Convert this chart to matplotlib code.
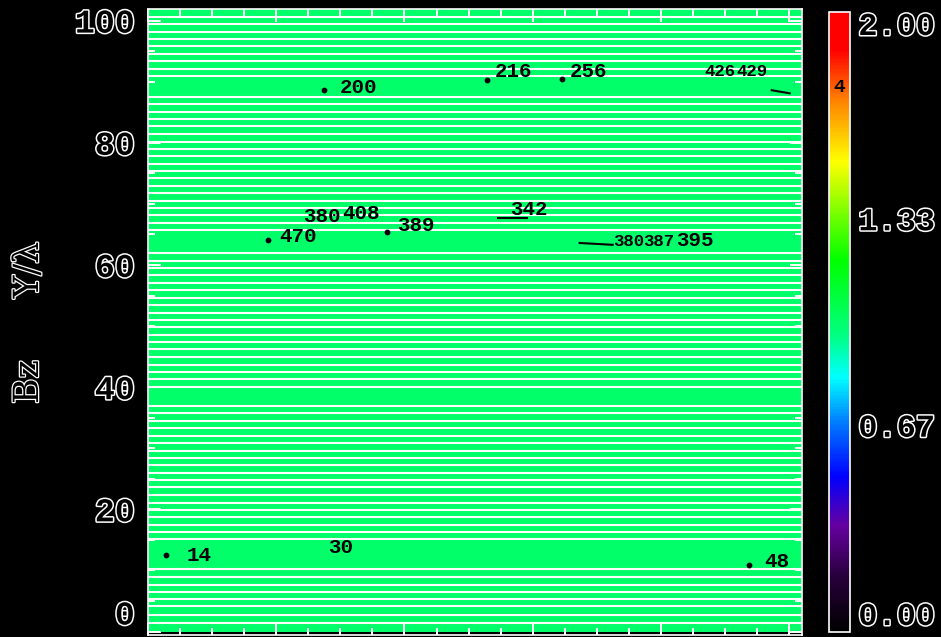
"""
Bz map in the (X, Y/lambda) plane, IDL-style: constant field fill,
white contour lines and black numeric labels, rainbow colour bar.
"""

import matplotlib
matplotlib.use("Agg")
import numpy as np
import matplotlib.pyplot as plt
from matplotlib import patheffects
from matplotlib.colors import LinearSegmentedColormap
from matplotlib.ticker import MultipleLocator

OUTPUT_FIGURE = "out.png"

# field level filling the panel and colour-bar range
BZ_LEVEL = 1.0
BZ_MIN, BZ_MAX = 0.0, 2.0
X_MAX = 255.0
Y_MIN, Y_MAX = -0.57, 101.9

# white contour lines (Y/lambda)
contour_y = [
    100.6, 99.4, 98.2, 97.0, 95.8, 94.6, 93.4, 92.1, 90.9,
    87.5, 86.3, 85.1, 83.9, 82.7, 81.4, 80.2, 79.0, 77.8, 76.6,
    75.4, 74.2, 73.0, 71.8, 70.5, 69.3, 68.1, 66.9, 65.7,
    61.9, 60.7, 59.5, 58.3, 57.1, 55.9, 54.6, 53.4, 52.2, 51.0,
    49.8, 48.6, 47.4, 46.2, 45.0, 43.7, 42.5, 41.3, 40.1,
    36.9, 35.7, 34.5, 33.3, 32.0, 30.8, 29.6, 28.4, 27.2, 26.0,
    24.8, 23.6, 22.4, 21.1, 19.9, 18.7, 17.5, 16.3, 15.1,
    10.3, 8.9, 7.6, 6.5, 5.3, 4.1, 2.7, 1.4,
]

# black contour labels
label_text = ["200", "216", "256", "470", "380", "408", "389",
              "342", "395", "14", "30", "48"]
label_x = [74.7, 135.1, 164.4, 51.3, 60.3, 75.8, 97.3,
           141.0, 206.1, 15.0, 70.4, 240.1]
label_y = [89.1, 91.7, 91.7, 64.7, 68.0, 68.5, 66.4,
           69.0, 64.0, 12.4, 13.7, 11.4]

# crowded labels that sit on top of each other in the original
crowded_text = ["426", "429", "380", "387"]
crowded_x = [217.1, 229.5, 181.2, 192.9]
crowded_y = [91.7, 91.7, 63.9, 63.9]

# small black contour fragments
dot_x = [132.0, 46.6, 93.0, 234.2, 68.8, 161.3, 7.2]
dot_y = [90.3, 64.1, 65.4, 10.9, 88.6, 90.4, 12.5]
stroke_x0 = [136.3, 168.3, 243.2]
stroke_x1 = [147.6, 181.2, 250.2]
stroke_y0 = [67.7, 63.6, 88.6]
stroke_y1 = [67.7, 63.3, 88.1]

y_ticks = [0, 20, 40, 60, 80, 100]
y_ticklabels = ["0", "20", "40", "60", "80", "100"]
cbar_ticks = [0.0, 0.667, 1.333, 2.0]
cbar_ticklabels = ["0.00", "0.67", "1.33", "2.00"]
cbar_mark_value = 1.758
cbar_mark_text = "4"

rainbow_stops = [
    (0.00, (0.00, 0.00, 0.00)),
    (0.09, (0.16, 0.00, 0.24)),
    (0.17, (0.40, 0.00, 0.63)),
    (0.25, (0.00, 0.00, 1.00)),
    (0.34, (0.00, 0.50, 1.00)),
    (0.41, (0.00, 1.00, 1.00)),
    (0.48, (0.00, 1.00, 0.50)),
    (0.60, (0.00, 1.00, 0.00)),
    (0.76, (1.00, 1.00, 0.00)),
    (0.86, (1.00, 0.50, 0.00)),
    (0.94, (1.00, 0.00, 0.00)),
    (1.00, (1.00, 0.00, 0.00)),
]


def hollow(width=2.2):
    return [patheffects.withStroke(linewidth=width, foreground="white")]


def main():
    cmap = LinearSegmentedColormap.from_list("idl_rainbow", rainbow_stops)

    fig = plt.figure(figsize=(9.41, 6.37), dpi=100, facecolor="black")
    ax = fig.add_axes([148 / 941, 2 / 637, 654 / 941, 626 / 637])
    ax.set_facecolor("black")

    field = np.full((1, 1), BZ_LEVEL)
    mesh = ax.pcolormesh([0, X_MAX], [0, Y_MAX], field, cmap=cmap,
                         vmin=BZ_MIN, vmax=BZ_MAX, shading="flat")

    ax.hlines(contour_y, 0, X_MAX, colors="white", linewidth=1.5, zorder=2)

    for txt, x, y in zip(label_text, label_x, label_y):
        ax.text(x, y, txt, color="black", fontsize=15, fontweight="bold",
                family="Liberation Mono", ha="left", va="center", zorder=4)
    for txt, x, y in zip(crowded_text, crowded_x, crowded_y):
        ax.text(x, y, txt, color="black", fontsize=12.5, fontweight="bold",
                family="Liberation Mono", ha="left", va="center", zorder=4)
    ax.scatter(dot_x, dot_y, s=10, color="black", zorder=4)
    for x0, x1, y0, y1 in zip(stroke_x0, stroke_x1, stroke_y0, stroke_y1):
        ax.plot([x0, x1], [y0, y1], color="black", linewidth=1.5, zorder=4)

    ax.set_xlim(0, X_MAX)
    ax.set_ylim(Y_MIN, Y_MAX)
    ax.xaxis.set_major_locator(MultipleLocator(50))
    ax.xaxis.set_minor_locator(MultipleLocator(12.5))
    ax.set_yticks(y_ticks, labels=y_ticklabels)
    ax.yaxis.set_minor_locator(MultipleLocator(5))
    ax.tick_params(which="both", direction="in", color="white", width=1.4,
                   top=True, right=True, labelbottom=False)
    ax.tick_params(which="major", length=9)
    ax.tick_params(which="minor", length=5)
    ax.tick_params(axis="y", pad=9.5, labelsize=24, labelcolor="black")
    for lbl in ax.get_yticklabels():
        lbl.set_family("Liberation Mono")
        lbl.set_fontweight("bold")
        lbl.set_path_effects(hollow())
    ax.get_yticklabels()[0].set_verticalalignment("bottom")
    for spine in ax.spines.values():
        spine.set_color("white")
        spine.set_linewidth(1.2)

    fig.text(28 / 941, 1 - 270 / 637, "Y/λ", rotation=90, color="black",
             fontsize=25, family="DejaVu Serif", ha="center", va="center",
             path_effects=hollow(1.8))
    fig.text(28 / 941, 1 - 382 / 637, "Bz", rotation=90, color="black",
             fontsize=25, family="DejaVu Serif", ha="center", va="center",
             path_effects=hollow(1.8))

    cax = fig.add_axes([829 / 941, 5 / 637, 21 / 941, 620 / 637])
    cbar = fig.colorbar(mesh, cax=cax)
    cbar.set_ticks(cbar_ticks, labels=cbar_ticklabels)
    cbar.outline.set_edgecolor("white")
    cbar.outline.set_linewidth(1.2)
    cax.tick_params(length=0, pad=6, labelsize=23, labelcolor="black")
    for lbl in cax.get_yticklabels():
        lbl.set_family("Liberation Mono")
        lbl.set_fontweight("bold")
        lbl.set_path_effects(hollow())
    cax.get_yticklabels()[0].set_verticalalignment("bottom")
    cax.get_yticklabels()[-1].set_verticalalignment("top")
    cax.text(0.5, cbar_mark_value, cbar_mark_text, color="black",
             fontsize=14, fontweight="bold", family="Liberation Mono",
             ha="center", va="center", transform=cax.get_yaxis_transform())

    fig.savefig(OUTPUT_FIGURE, dpi=100, facecolor="black")
    plt.close(fig)


if __name__ == "__main__":
    main()
